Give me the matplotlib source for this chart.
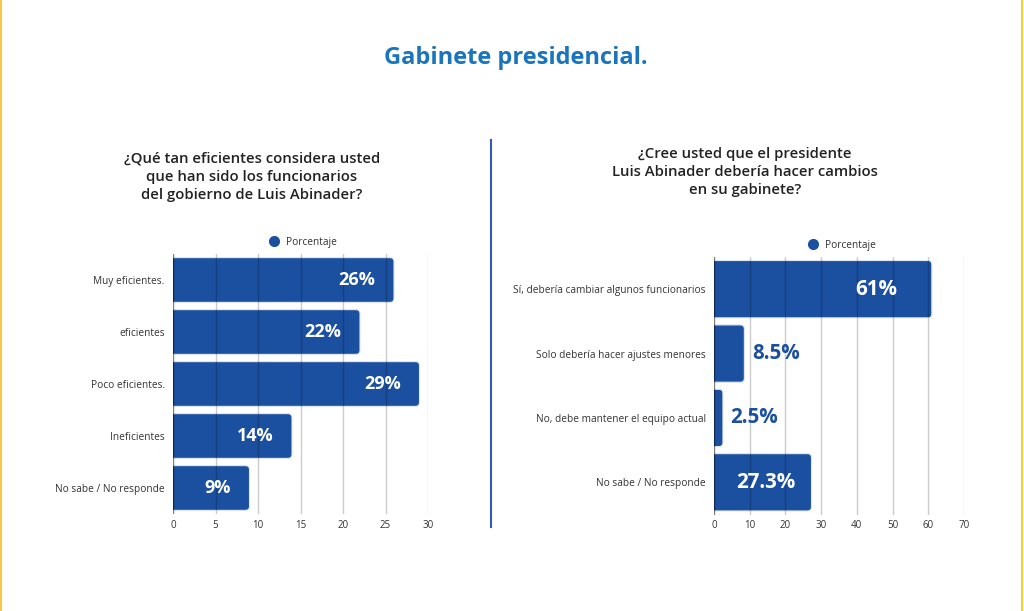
import matplotlib
matplotlib.use("Agg")
import matplotlib.pyplot as plt
from matplotlib.patches import FancyBboxPatch
from matplotlib.lines import Line2D

plt.rcParams["font.family"] = ["Open Sans", "DejaVu Sans"]

# data
title = "Gabinete presidencial."
left_question = "¿Qué tan eficientes considera usted\nque han sido los funcionarios\ndel gobierno de Luis Abinader?"
left_cats = ["Muy eficientes.", "eficientes", "Poco eficientes.", "Ineficientes", "No sabe / No responde"]
left_vals = [26, 22, 29, 14, 9]
left_labels = ["26%", "22%", "29%", "14%", "9%"]
left_ticks = [0, 5, 10, 15, 20, 25, 30]

right_question = "¿Cree usted que el presidente\nLuis Abinader debería hacer cambios\nen su gabinete?"
right_cats = ["Sí, debería cambiar algunos funcionarios", "Solo debería hacer ajustes menores",
              "No, debe mantener el equipo actual", "No sabe / No responde"]
right_vals = [61, 8.5, 2.5, 27.3]
right_labels = ["61%", "8.5%", "2.5%", "27.3%"]
right_ticks = [0, 10, 20, 30, 40, 50, 60, 70]

BAR = "#1b4f9f"
TEXT = "#333333"


def draw_panel(ax, cats, vals, labels, ticks, bar_h, lab_size, px_per_unit, px_per_cat,
               shrink, gap):
    n = len(cats)
    ax.set_xlim(ticks[0], ticks[-1])
    ax.set_ylim(n - 0.5, -0.5)
    aspect = (1.0 / px_per_cat) / (1.0 / px_per_unit)
    r = 4.0 / px_per_unit
    for i, v in enumerate(vals):
        x0 = -3.0 / px_per_unit
        p = FancyBboxPatch((x0, i - bar_h / 2), v - x0, bar_h,
                           boxstyle=f"round,pad=0,rounding_size={r}",
                           mutation_aspect=aspect,
                           facecolor=BAR, edgecolor="#dfe6f2", linewidth=0.8, zorder=2)
        ax.add_patch(p)
    for t in ticks:
        ax.axvline(t, color="black", alpha=0.5 if t == 0 else 0.2, lw=1.0, zorder=3)
    for s in ax.spines.values():
        s.set_visible(False)
    ax.set_xticks(ticks)
    ax.set_xticklabels([str(t) for t in ticks], fontsize=7, color=TEXT)
    ax.set_yticks(range(n))
    ax.set_yticklabels(cats, fontsize=7.3, color=TEXT)
    ax.tick_params(length=0, axis="x", pad=4)
    ax.tick_params(length=0, axis="y", pad=6)
    xmax = ticks[-1]
    for i, (v, lab) in enumerate(zip(vals, labels)):
        if v >= 0.15 * xmax:
            ax.text(v * (1 - shrink) - gap, i, lab, ha="right", va="center", color="white",
                    fontsize=lab_size, fontweight="bold", zorder=4)
        else:
            ax.text(v + 0.03 * xmax, i, lab, ha="left", va="center", color=BAR,
                    fontsize=lab_size, fontweight="bold", zorder=4)
    h = Line2D([], [], marker="o", linestyle="none", markersize=7,
               markerfacecolor=BAR, markeredgecolor=BAR, label="Porcentaje")
    ax.legend(handles=[h], loc="lower center", bbox_to_anchor=(0.5, 1.0), frameon=False,
              fontsize=7.3, handletextpad=0.2, borderaxespad=0.2, labelcolor=TEXT)


fig = plt.figure(figsize=(10.24, 6.11), dpi=100)
W, H = 1024, 611

ax1 = fig.add_axes([173 / W, 1 - 514 / H, (428 - 173) / W, (514 - 254) / H])
draw_panel(ax1, left_cats, left_vals, left_labels, left_ticks, 0.86, 13, 8.5, 52, 0.0, 2.2)

ax2 = fig.add_axes([714 / W, 1 - 514.5 / H, (964 - 714) / W, (514.5 - 257) / H])
draw_panel(ax2, right_cats, right_vals, right_labels, right_ticks, 0.89, 14.8, 3.57, 64.3, 0.16, 0.0)

fig.text(516 / W, 1 - 58 / H, title, ha="center", va="center", fontsize=17,
         fontweight="bold", color="#1a75bc")
fig.text(252 / W, 1 - 177 / H, left_question, ha="center", va="center", fontsize=10.7,
         fontweight="semibold", color="#222222", linespacing=1.4)
fig.text(745 / W, 1 - 172 / H, right_question, ha="center", va="center", fontsize=10.7,
         fontweight="semibold", color="#222222", linespacing=1.4)

# divider and side borders
fig.add_artist(Line2D([491 / W, 491 / W], [1 - 140 / H, 1 - 527 / H], color="#3557b5", lw=1.5))
fig.add_artist(Line2D([1 / W, 1 / W], [0, 1], color="#f7c948", lw=1.5))
fig.add_artist(Line2D([1021.5 / W, 1021.5 / W], [0, 1], color="#f7c948", lw=1.5))

fig.savefig("out.png", dpi=100)
